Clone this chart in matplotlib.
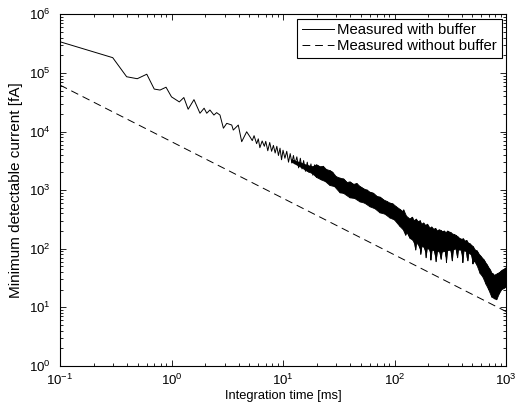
import numpy as np
import matplotlib
matplotlib.use('Agg')
import matplotlib.pyplot as plt

plt.rcParams['font.family'] = ['Liberation Sans', 'DejaVu Sans']
plt.rcParams['mathtext.fontset'] = 'custom'
plt.rcParams['mathtext.rm'] = 'Liberation Sans'
plt.rcParams['mathtext.it'] = 'Liberation Sans:italic'
plt.rcParams['font.size'] = 9

# --- Data ---
# sparse part of the "with buffer" curve, integration time [ms] vs current [fA]
buf_t = [0.1, 0.297, 0.396, 0.493, 0.6, 0.70, 0.789, 0.893, 1.0, 1.175, 1.29,
         1.41, 1.59, 1.80, 1.96, 2.07, 2.21, 2.40, 2.54, 2.72, 2.92, 3.13,
         3.47, 3.58, 3.97, 4.26, 4.72, 5.06, 5.3, 5.5, 5.8, 6.0, 6.2, 6.5,
         6.8, 7.0, 7.3, 7.6, 7.9, 8.2, 8.5, 8.8, 9.1, 9.4, 9.7, 10.0, 10.4,
         10.8, 11.2, 11.6, 12.0, 12.4, 12.8, 13.3, 13.8, 14.3, 14.8, 15.3,
         15.9, 16.5, 17.1, 17.8, 18.5, 19.2, 20.0]
buf_i = [3.4e5, 1.82e5, 8.6e4, 7.96e4, 9.5e4, 5.3e4, 5.1e4, 5.7e4, 3.9e4,
         3.2e4, 3.8e4, 2.4e4, 3.5e4, 2.05e4, 2.5e4, 2.05e4, 2.33e4, 1.91e4,
         2.1e4, 1.91e4, 1.14e4, 1.38e4, 1.29e4, 1.06e4, 1.29e4, 6.7e3, 9.9e3,
         8.1e3, 7000, 8500, 6200, 7500, 5300, 6900, 5600, 6800, 4700, 6500,
         4600, 5800, 4300, 5600, 3900, 5200, 3300, 4800, 3500, 4600, 3000,
         4200, 2900, 3900, 2800, 3700, 2400, 3500, 2300, 3200, 2100, 3000,
         2000, 2800, 1800, 2700, 1700]

# dense noisy part: upper and lower edge of the black band
up_t = [12, 13, 14.3, 15.5, 17, 18.5,
        20, 21.5, 23, 24.5, 26.4, 28, 30, 32.5, 35, 37.5, 39.9, 43, 46, 49.1,
        53, 57, 60.3, 65, 70, 74.1, 80, 86, 91.1, 97, 104, 112, 118, 121, 128,
        138, 145, 150, 157, 163, 170, 176, 183, 190, 198, 208, 216, 225, 234,
        243, 252, 262, 270, 280, 290, 300, 310, 320, 332, 345, 358, 370, 385,
        400, 415, 430, 445, 460, 475, 490, 510, 530, 550, 570, 590, 610, 630,
        650, 670, 690, 710, 730, 750, 770, 790, 810, 830, 850, 870, 890, 910,
        930, 950, 970, 985, 1000]
up_i = [3300, 3100, 2950, 2750, 2600, 2500,
        2700, 2500, 2550, 2250, 2150, 2000, 1700, 1600, 1550, 1350, 1380,
        1250, 1300, 1150, 1050, 1000, 920, 880, 780, 760, 680, 640, 600, 580,
        520, 470, 430, 460, 360, 320, 345, 300, 320, 290, 300, 260, 275, 250,
        262, 225, 235, 215, 222, 200, 210, 205, 195, 200, 188, 200, 192, 190,
        178, 175, 168, 160, 150, 145, 148, 135, 138, 125, 122, 115, 108, 95,
        92, 82, 76, 70, 66, 60, 55, 50, 46, 42, 38, 37, 35, 36, 37, 38, 39, 40,
        42, 43, 44, 45, 46, 47]
low_t = [12, 13.3, 14.8, 16.5, 18.5,
         20, 22, 24, 26.4, 29, 32.5, 35, 39.9, 44, 49.1, 54, 60.3, 67, 74.1,
         82, 91.1, 100, 112, 120, 126, 130, 138, 146, 152, 155, 158, 165, 170,
         172, 176, 185, 190, 192, 196, 205, 210, 212, 218, 228, 233, 236, 242,
         255, 258, 262, 268, 285, 290, 292, 298, 318, 325, 330, 338, 355, 362,
         368, 375, 395, 405, 410, 420, 440, 448, 455, 465, 490, 500, 505, 520,
         550, 585, 620, 660, 700, 745, 790, 826, 870, 915, 960, 1000]
low_i = [3000, 2700, 2400, 2100, 1900,
         1650, 1500, 1400, 1200, 1150, 900, 880, 740, 720, 630, 600, 520, 480,
         410, 390, 335, 310, 240, 210, 170, 190, 150, 140, 120, 95, 125, 115,
         100, 80, 110, 105, 90, 70, 100, 98, 85, 64, 95, 92, 75, 60, 90, 88,
         78, 66, 88, 90, 72, 58, 92, 95, 80, 62, 95, 100, 85, 70, 95, 95, 78,
         58, 92, 90, 72, 62, 85, 78, 65, 55, 62, 52, 38, 33, 25, 20, 15, 14,
         13.5, 17, 20, 21, 22]

# without buffer: straight line on log-log axes
nobuf_t = [0.1, 1000]
nobuf_i = [6.2e4, 8.5]

fig = plt.figure(figsize=(5.31, 4.12), dpi=100)
ax = fig.add_axes([0.113, 0.1117, 0.840, 0.8536])

ax.plot(buf_t, buf_i, color='black', lw=0.7, label='Measured with buffer')
ax.fill(np.concatenate([up_t, low_t[::-1]]),
        np.concatenate([up_i, low_i[::-1]]),
        color='black', lw=0.6)
# zig-zag through both edges so the band looks noisy
band = sorted(zip(up_t + low_t, up_i + low_i))
ax.plot([p[0] for p in band], [p[1] for p in band], color='black', lw=0.6)
ax.plot(nobuf_t, nobuf_i, color='black', lw=0.7, dashes=(8, 5),
        label='Measured without buffer')

ax.set_xscale('log')
ax.set_yscale('log')
ax.set_xlim(0.1, 1000)
ax.set_ylim(1, 1e6)
ax.set_xlabel('Integration time [ms]', fontsize=9.3, labelpad=1)
ax.set_ylabel('Minimum detectable current [fA]', fontsize=11, labelpad=4)

ax.tick_params(which='both', direction='in', top=True, right=True, width=0.6)
ax.tick_params(which='major', length=4, labelsize=9.5)
ax.tick_params(which='minor', length=2)
ax.tick_params(axis='x', which='major', pad=5)
ax.tick_params(axis='y', which='major', pad=7)
for s in ax.spines.values():
    s.set_linewidth(0.8)

leg = ax.legend(loc='upper right', fancybox=False, framealpha=1,
                edgecolor='black', fontsize=10.7, handlelength=2.2,
                handletextpad=0.2, borderaxespad=0.3, borderpad=0.3,
                labelspacing=0.15)
leg.get_frame().set_linewidth(0.8)

fig.savefig('out.png', dpi=100)
